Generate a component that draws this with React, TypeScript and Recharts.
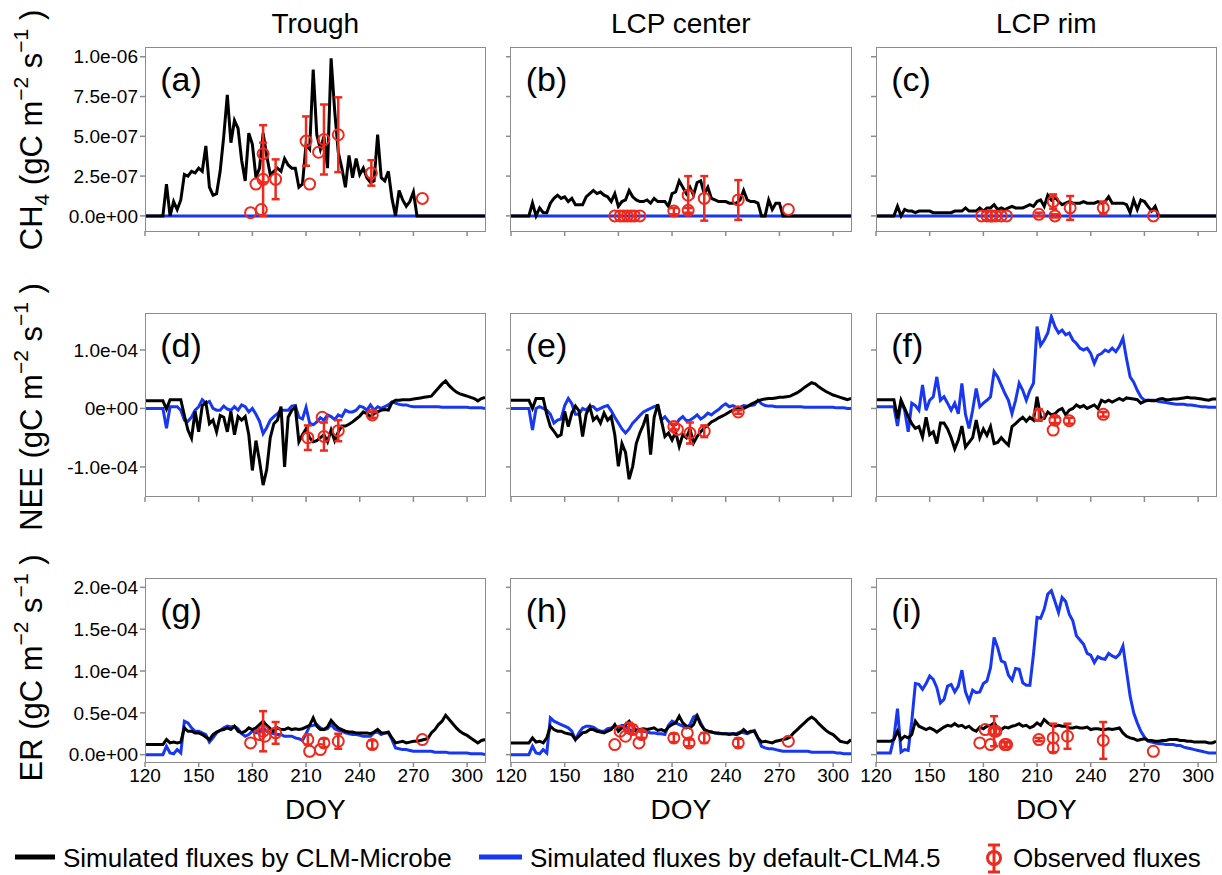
import React from 'react';
import { ComposedChart, Line, XAxis, YAxis, ErrorBar } from 'recharts';

const FONT = '"Liberation Sans", Arial, Helvetica, sans-serif';
const BLACK = '#000000';
const BLUE = '#1737f2';
const RED = '#ee2a1e';
const FRAME = '#8c8c8c';

// day of year grid shared by the simulated series
const DOY = [
  120, 122, 124, 126, 128, 130, 132, 134, 136, 138,
  140, 142, 144, 146, 148, 150, 152, 154, 156, 158,
  160, 162, 164, 166, 168, 170, 172, 174, 176, 178,
  180, 182, 184, 186, 188, 190, 192, 194, 196, 198,
  200, 202, 204, 206, 208, 210, 212, 214, 216, 218,
  220, 222, 224, 226, 228, 230, 232, 234, 236, 238,
  240, 242, 244, 246, 248, 250, 252, 254, 256, 258,
  260, 262, 264, 266, 268, 270, 272, 274, 276, 278,
  280, 282, 284, 286, 288, 290, 292, 294, 296, 298,
  300, 302, 304, 306, 308, 310,
];
const DOY_TICKS = [120, 150, 180, 210, 240, 270, 300];

// CH4 in units of 1e-8 gC m-2 s-1
const CH4_TROUGH_MICROBE = [
  0, 0, 0, 0, 0, 0, 20, 0, 9, 4,
  10, 26, 25, 28, 27, 30, 28, 44, 18, 13,
  14, 28, 50, 76, 46, 60, 55, 35, 22, 52,
  45, 24, 30, 52, 38, 26, 28, 30, 28, 36,
  32, 30, 30, 18, 20, 45, 42, 92, 51, 42,
  50, 30, 99, 66, 40, 30, 18, 38, 24, 36,
  26, 30, 24, 21, 22, 51, 24, 22, 28, 11,
  0, 16, 10, 6, 9, 15, 0, 0, 0, 0,
  0, 0, 0, 0, 0, 0, 0, 0, 0, 0,
  0, 0, 0, 0, 0, 0,
];
const CH4_CENTER_MICROBE = [
  0, 0, 0, 0, 0, 0, 8, 0, 5, 2,
  2, 8, 11, 13, 11, 12, 9, 11, 7, 7,
  7, 12, 14, 16, 14, 15, 13, 12, 9, 14,
  6, 9, 10, 16, 12, 10, 9, 9, 10, 8,
  11, 9, 9, 9, 6, 14, 15, 22, 18, 14,
  18, 13, 21, 22, 14, 18, 11, 10, 9, 9,
  9, 8, 8, 8, 10, 16, 10, 9, 9, 8,
  0, 0, 10, 4, 8, 8, 0, 0, 0, 0,
  0, 0, 0, 0, 0, 0, 0, 0, 0, 0,
  0, 0, 0, 0, 0, 0,
];
const CH4_RIM_MICROBE = [
  0, 0, 0, 0, 0, 0, 6, 0, 4, 3,
  3, 2, 3, 3, 3, 3, 2, 2, 2, 2,
  2, 2, 3, 3, 3, 5, 3, 3, 3, 5,
  3, 5, 5, 7, 4, 5, 4, 5, 6, 5,
  5, 5, 6, 7, 6, 9, 10, 6, 13, 10,
  12, 9, 7, 8, 9, 8, 8, 8, 9, 8,
  8, 8, 9, 8, 9, 12, 8, 8, 8, 8,
  7, 2, 10, 4, 10, 9, 6, 3, 6, 0,
  0, 0, 0, 0, 0, 0, 0, 0, 0, 0,
  0, 0, 0, 0, 0, 0,
];
// default CLM4.5 gives no CH4 at any site
const CH4_DEFAULT_DOY = [120, 310];
const CH4_DEFAULT = [0, 0];

// NEE in units of 1e-6 gC m-2 s-1
const NEE_TROUGH_MICROBE = [
  13, 13, 13, 13, 13, 13, -1, 15, 15, 15,
  15, -12, -37, -51, -5, -40, 5, 10, -26, -20,
  -40, -12, -15, -40, -5, -45, -14, -20, -14, -45,
  -106, -55, -90, -131, -105, -50, -26, -20, 3, -100,
  -15, -3, 2, -57, -45, -35, -50, -57, -55, -50,
  -45, -57, -37, -55, -40, -30, -30, -27, -23, -18,
  -13, -6, -9, -14, -9, -6, -3, -2, -3, 10,
  14, 14, 15, 15, 15, 16, 17, 18, 19, 20,
  21, 28, 35, 42, 47, 39, 33, 28, 25, 23,
  21, 19, 17, 13, 17, 19,
];
const NEE_TROUGH_DEFAULT = [
  0, 0, 0, 0, 0, 0, -34, 3, 3, 3,
  -3, -20, -22, -15, -3, 3, 15, 9, 12, 0,
  -3, -3, 4, -1, -3, 3, -3, 6, 3, -6,
  0, -10, -22, -43, -33, -20, -14, -9, -3, -3,
  -3, 4, 5, -15, -18, 2, -25, -28, -23, -16,
  -20, -11, -14, -19, -11, -14, -3, -6, -6, -3,
  4, 2, -3, 6, -3, 3, 0, 3, 6, 11,
  9, 7, 6, 6, 4, 3, 3, 3, 3, 3,
  3, 3, 3, 2, 2, 2, 2, 2, 2, 2,
  2, 1, 1, 1, 1, 0,
];
const NEE_CENTER_MICROBE = [
  14, 14, 14, 14, 14, 14, 0, 17, 17, 17,
  -10, -31, -39, -48, -45, -5, -31, -8, 4, -4,
  -48, -10, 3, -20, -14, -25, -8, -20, -14, -45,
  -99, -60, -75, -121, -99, -60, -42, -28, -10, -79,
  -15, 7, -20, -48, -42, -54, -40, -65, -45, -50,
  -35, -59, -48, -40, -33, -29, -23, -20, -16, -13,
  -10, -6, -3, -1, 0, 0, 3, 7, 10, 13,
  15, 16, 17, 17, 18, 19, 19, 20, 21, 24,
  27, 31, 36, 40, 44, 42, 37, 33, 29, 26,
  23, 21, 19, 17, 15, 17,
];
const NEE_CENTER_DEFAULT = [
  0, 0, 0, 0, 0, 0, -37, 0, 3, 0,
  -3, -10, -25, -20, -18, 5, 17, 8, -10, -10,
  0, -3, 4, 3, -3, 0, 3, 5, -4, -15,
  -25, -35, -42, -35, -25, -19, -12, -6, -3, 0,
  3, 5, -20, -14, -22, -28, -28, -19, -14, -21,
  -20, -16, -11, -18, -14, -8, -11, -6, -2, 4,
  8, 3, 5, 2, 2, 5, 4, 5, 6, 14,
  8, 5, 4, 4, 3, 3, 3, 3, 3, 3,
  3, 3, 2, 2, 2, 2, 2, 2, 2, 2,
  2, 1, 1, 1, 0, 0,
];
const NEE_RIM_MICROBE = [
  15, 15, 15, 15, 15, 15, -17, 14, 0, -14,
  -26, -34, -31, -49, -15, -45, -40, -60, -25, -25,
  -35, -50, -69, -54, -30, -66, -58, -50, -20, -50,
  -35, -46, -31, -60, -58, -50, -57, -63, -31, -26,
  -20, -15, -22, -15, -20, 20, -15, -17, -6, -11,
  -9, -3, 0, -11, -3, 0, 6, 2, 5, 0,
  3, 6, 0, 14, 11, 14, 11, 14, 17, 14,
  18, 17, 16, 15, 9, 12, 14, 13, 13, 16,
  17, 15, 15, 16, 16, 17, 18, 19, 18, 18,
  17, 16, 15, 14, 16, 16,
];
const NEE_RIM_DEFAULT = [
  3, 3, 3, 3, 3, 3, -30, 12, -3, -40,
  9, 5, -3, 40, -3, 14, 20, 54, 14, 20,
  9, -3, 9, -9, 43, -10, -34, -3, 34, 3,
  9, 14, 20, 63, 54, 40, 26, 14, -9, 14,
  43, 31, 14, 31, 43, 140, 108, 117, 129, 157,
  140, 129, 134, 126, 129, 117, 111, 103, 100, 103,
  94, 77, 91, 94, 100, 97, 103, 97, 106, 120,
  85, 54, 45, 31, 20, 14, 14, 14, 14, 12,
  11, 10, 9, 8, 7, 7, 7, 6, 6, 5,
  4, 3, 3, 2, 2, 2,
];

// ER in units of 1e-6 gC m-2 s-1
const ER_TROUGH_MICROBE = [
  12, 12, 12, 12, 12, 12, 18, 14, 15, 14,
  15, 32, 28, 28, 26, 26, 24, 21, 18, 24,
  27, 29, 30, 32, 30, 34, 28, 26, 28, 32,
  30, 32, 36, 40, 35, 31, 28, 32, 30, 30,
  32, 30, 31, 30, 31, 33, 35, 44, 34, 30,
  30, 33, 41, 36, 32, 30, 28, 27, 27, 26,
  26, 26, 26, 25, 27, 30, 26, 26, 27, 20,
  14, 15, 16, 14, 15, 16, 16, 17, 18, 19,
  26, 30, 36, 40, 47, 42, 37, 32, 28, 25,
  23, 20, 17, 14, 17, 18,
];
const ER_TROUGH_DEFAULT = [
  0, 0, 0, 0, 0, 0, 10, 2, 1, 6,
  2, 40, 38, 32, 28, 28, 26, 24, 15, 20,
  26, 29, 32, 34, 33, 34, 31, 25, 22, 24,
  28, 26, 28, 32, 28, 26, 25, 24, 24, 22,
  22, 22, 20, 19, 17, 25, 34, 35, 36, 32,
  30, 31, 36, 31, 29, 28, 26, 25, 24, 24,
  23, 22, 22, 22, 26, 27, 24, 26, 26, 18,
  8, 7, 6, 6, 5, 4, 4, 4, 4, 4,
  4, 3, 3, 3, 3, 2, 2, 2, 2, 2,
  2, 1, 1, 1, 1, 0,
];
const ER_CENTER_MICROBE = [
  14, 14, 14, 14, 14, 14, 20, 15, 16, 14,
  20, 34, 30, 28, 28, 26, 25, 24, 18, 22,
  26, 27, 30, 30, 28, 27, 26, 28, 30, 36,
  28, 32, 36, 40, 34, 28, 30, 31, 30, 31,
  32, 29, 30, 28, 33, 36, 38, 46, 38, 34,
  32, 36, 46, 36, 30, 28, 27, 26, 26, 25,
  25, 24, 25, 24, 26, 30, 26, 28, 28, 20,
  15, 16, 15, 14, 16, 17, 18, 19, 21, 26,
  30, 34, 38, 42, 45, 42, 37, 33, 29, 26,
  24, 20, 16, 15, 14, 18,
];
const ER_CENTER_DEFAULT = [
  0, 0, 0, 0, 0, 0, 10, 2, 1, 6,
  2, 44, 40, 38, 36, 34, 32, 28, 18, 26,
  32, 34, 34, 33, 30, 28, 28, 31, 32, 33,
  33, 35, 34, 30, 28, 30, 28, 28, 27, 26,
  26, 25, 25, 24, 35, 40, 38, 36, 34, 32,
  36, 45, 47, 38, 30, 28, 27, 26, 25, 25,
  25, 25, 25, 25, 27, 26, 25, 27, 29, 20,
  10, 8, 7, 7, 6, 5, 4, 4, 4, 4,
  4, 4, 4, 4, 3, 3, 3, 3, 3, 3,
  3, 2, 2, 1, 1, 1,
];
const ER_RIM_MICROBE = [
  16, 16, 16, 16, 16, 18, 28, 18, 22, 20,
  24, 40, 34, 32, 30, 32, 30, 27, 30, 33,
  35, 34, 37, 34, 35, 32, 34, 30, 28, 33,
  31, 34, 35, 38, 32, 30, 33, 32, 34, 35,
  37, 34, 35, 32, 34, 38, 35, 42, 38, 35,
  34, 35, 34, 34, 32, 32, 33, 32, 32, 33,
  30, 31, 31, 30, 30, 31, 30, 31, 32, 26,
  22, 20, 19, 17, 18, 19, 17, 17, 16, 16,
  17, 17, 18, 18, 18, 17, 17, 16, 16, 15,
  15, 15, 15, 14, 14, 16,
];
const ER_RIM_DEFAULT = [
  2, 2, 2, 2, 2, 20, 55, 3, 6, 5,
  40, 85, 84, 78, 85, 94, 90, 80, 62, 66,
  82, 84, 75, 82, 101, 75, 64, 77, 74, 75,
  85, 88, 104, 140, 128, 112, 110, 95, 89, 103,
  102, 86, 83, 83, 120, 164, 163, 174, 192, 196,
  183, 170, 188, 183, 168, 160, 142, 137, 132, 121,
  119, 110, 117, 115, 114, 121, 118, 116, 120, 130,
  100, 70, 50, 38, 28, 21, 16, 15, 14, 13,
  13, 12, 12, 12, 11, 11, 9, 8, 7, 6,
  5, 4, 3, 2, 2, 2,
];

// observations: day, value, error half-width (0 = no error bar), same units as above
const OBS_A_DOY = [179, 182, 185, 186, 186, 193, 210, 212, 217, 220, 228, 246.5, 275];
const OBS_A_VAL = [2, 20, 4, 39, 23, 23, 47, 20, 40, 48, 51, 27, 11];
const OBS_A_ERR = [0, 0, 0, 18, 23, 12.5, 15.5, 0, 0, 22, 23.5, 8, 0];
const OBS_B_DOY = [178, 181, 183, 185, 187, 189, 192, 211, 219, 219, 228, 247, 275];
const OBS_B_VAL = [0, 0, 0, 0, 0, 0, 0, 3, 13, 3.5, 11, 10, 4];
const OBS_B_ERR = [0, 0, 0, 0, 0, 0, 0, 2, 12, 1.5, 14, 12.5, 0];
const OBS_C_DOY = [179, 182, 184, 185, 187, 190, 193, 211, 219, 220, 228.5, 247, 275];
const OBS_C_VAL = [0, 0, 0, 0, 0, 0, 0, 1, 9, 0, 5, 5, 0];
const OBS_C_ERR = [0, 0, 0, 0, 0, 0, 0, 1, 4.5, 1, 7.5, 4, 0];
const OBS_D_DOY = [211, 219, 220, 228, 247];
const OBS_D_VAL = [-50, -15, -48, -38, -11];
const OBS_D_ERR = [21, 0, 24, 18, 5];
const OBS_E_DOY = [211, 213, 220, 228, 247];
const OBS_E_VAL = [-31, -36, -42, -39, -6];
const OBS_E_ERR = [5, 0, 18, 10, 3];
const OBS_F_DOY = [211, 219, 220, 228, 247];
const OBS_F_VAL = [-11, -37, -20, -21, -10];
const OBS_F_ERR = [10, 0, 5, 5, 4];
const OBS_G_DOY = [179, 184, 186, 187, 193, 211, 212, 218, 220, 228, 247, 275];
const OBS_G_VAL = [14, 24, 28, 22, 26, 18, 4, 6, 14, 16, 12, 18];
const OBS_G_ERR = [0, 0, 24, 0, 13, 6, 0, 0, 5, 9, 5, 0];
const OBS_H_DOY = [178, 181, 184, 186, 188, 191.5, 193, 211, 218.5, 219.5, 228, 247, 275];
const OBS_H_VAL = [12, 28, 22, 32, 30, 14, 24, 20, 26, 14, 20, 14, 16];
const OBS_H_ERR = [0, 0, 0, 6, 5, 0, 4, 5, 0, 4, 6, 5, 0];
const OBS_I_DOY = [178, 181, 184, 186, 187, 192, 193, 211, 219, 219, 227, 247, 275];
const OBS_I_VAL = [14, 30, 12, 28, 28, 12, 12, 18, 20, 8, 22, 17, 4];
const OBS_I_ERR = [0, 0, 0, 18, 4, 3, 3, 2, 17, 0, 15, 22, 0];

const SITES = ['Trough', 'LCP center', 'LCP rim'];
const ROW_UNITS = [1e-8, 1e-6, 1e-6];
const ROW_DOMAINS = [
  [-0.095e-6, 1.055e-6],
  [-1.514e-4, 1.615e-4],
  [-0.088e-4, 2.1e-4],
];
const ROW_TICKS = [
  [0, 2.5e-7, 5e-7, 7.5e-7, 1e-6],
  [-1e-4, 0, 1e-4],
  [0, 0.5e-4, 1e-4, 1.5e-4, 2e-4],
];
const ROW_TICK_LABELS = [
  ['0.0e+00', '2.5e-07', '5.0e-07', '7.5e-07', '1.0e-06'],
  ['-1.0e-04', '0e+00', '1.0e-04'],
  ['0.0e+00', '0.5e-04', '1.0e-04', '1.5e-04', '2.0e-04'],
];

// layout (page pixels)
const COL_LEFT = [145.3, 510.8, 876.3];
const ROW_TOP = [48, 313.5, 579];
const PLOT_W = 340;
const PLOT_H = 183;
const Y_AXIS_W = 110;
const X_AXIS_H = 42;
const PAD_TOP = 14;

const series = (vals: number[], unit: number, doy: number[] = DOY) =>
  doy.map((x, i) => ({ x, y: vals[i] * unit }));

const observed = (doy: number[], vals: number[], errs: number[], unit: number) => {
  const pts = doy.map((x, i) => ({ x, y: vals[i] * unit, e: errs[i] * unit }));
  return { bars: pts.filter((p) => p.e > 0), plain: pts.filter((p) => p.e === 0) };
};

const PANELS = [
  { id: 'a', row: 0, col: 0, microbe: CH4_TROUGH_MICROBE, def: CH4_DEFAULT, defDoy: CH4_DEFAULT_DOY, obs: [OBS_A_DOY, OBS_A_VAL, OBS_A_ERR] },
  { id: 'b', row: 0, col: 1, microbe: CH4_CENTER_MICROBE, def: CH4_DEFAULT, defDoy: CH4_DEFAULT_DOY, obs: [OBS_B_DOY, OBS_B_VAL, OBS_B_ERR] },
  { id: 'c', row: 0, col: 2, microbe: CH4_RIM_MICROBE, def: CH4_DEFAULT, defDoy: CH4_DEFAULT_DOY, obs: [OBS_C_DOY, OBS_C_VAL, OBS_C_ERR] },
  { id: 'd', row: 1, col: 0, microbe: NEE_TROUGH_MICROBE, def: NEE_TROUGH_DEFAULT, defDoy: DOY, obs: [OBS_D_DOY, OBS_D_VAL, OBS_D_ERR] },
  { id: 'e', row: 1, col: 1, microbe: NEE_CENTER_MICROBE, def: NEE_CENTER_DEFAULT, defDoy: DOY, obs: [OBS_E_DOY, OBS_E_VAL, OBS_E_ERR] },
  { id: 'f', row: 1, col: 2, microbe: NEE_RIM_MICROBE, def: NEE_RIM_DEFAULT, defDoy: DOY, obs: [OBS_F_DOY, OBS_F_VAL, OBS_F_ERR] },
  { id: 'g', row: 2, col: 0, microbe: ER_TROUGH_MICROBE, def: ER_TROUGH_DEFAULT, defDoy: DOY, obs: [OBS_G_DOY, OBS_G_VAL, OBS_G_ERR] },
  { id: 'h', row: 2, col: 1, microbe: ER_CENTER_MICROBE, def: ER_CENTER_DEFAULT, defDoy: DOY, obs: [OBS_H_DOY, OBS_H_VAL, OBS_H_ERR] },
  { id: 'i', row: 2, col: 2, microbe: ER_RIM_MICROBE, def: ER_RIM_DEFAULT, defDoy: DOY, obs: [OBS_I_DOY, OBS_I_VAL, OBS_I_ERR] },
];

const OBS_DOT = { r: 5.5, stroke: RED, strokeWidth: 2, fill: 'none' };

function Panel({ p }: { p: (typeof PANELS)[number] }) {
  const unit = ROW_UNITS[p.row];
  const showX = p.row === 2;
  const showY = p.col === 0;
  const obs = observed(p.obs[0], p.obs[1], p.obs[2], unit);
  const yTicks = ROW_TICKS[p.row];
  const yLabels = ROW_TICK_LABELS[p.row];
  const tickStyle = { fontSize: 19, fill: '#000', fontFamily: FONT };
  return (
    <div style={{ position: 'absolute', left: COL_LEFT[p.col] - Y_AXIS_W, top: ROW_TOP[p.row] - PAD_TOP }}>
      <ComposedChart
        width={Y_AXIS_W + PLOT_W + 4}
        height={PAD_TOP + PLOT_H + X_AXIS_H}
        margin={{ top: PAD_TOP, right: 4, bottom: 0, left: 0 }}
      >
        <XAxis
          type="number"
          dataKey="x"
          domain={[120, 310]}
          ticks={DOY_TICKS}
          interval={0}
          allowDataOverflow
          height={X_AXIS_H}
          axisLine={false}
          tickLine={{ stroke: FRAME, strokeWidth: 1.5 }}
          tickSize={5}
          tick={tickStyle}
          tickFormatter={(v: number) => (showX ? String(v) : '')}
        />
        <YAxis
          type="number"
          dataKey="y"
          domain={ROW_DOMAINS[p.row]}
          ticks={yTicks}
          interval={0}
          allowDataOverflow
          width={Y_AXIS_W}
          axisLine={false}
          tickLine={{ stroke: FRAME, strokeWidth: 1.5 }}
          tickSize={5}
          tick={tickStyle}
          tickFormatter={(v: number, i: number) => {
            if (!showY) return '';
            const k = yTicks.findIndex((t) => Math.abs(t - v) < 1e-12);
            return yLabels[k >= 0 ? k : i] ?? '';
          }}
        />
        <Line
          data={series(p.def, unit, p.defDoy)}
          dataKey="y"
          type="linear"
          stroke={BLUE}
          strokeWidth={3}
          dot={false}
          activeDot={false}
          isAnimationActive={false}
        />
        <Line
          data={series(p.microbe, unit)}
          dataKey="y"
          type="linear"
          stroke={BLACK}
          strokeWidth={3}
          dot={false}
          activeDot={false}
          isAnimationActive={false}
        />
        <Line
          data={obs.plain}
          dataKey="y"
          stroke="none"
          dot={OBS_DOT}
          activeDot={false}
          isAnimationActive={false}
        />
        <Line
          data={obs.bars}
          dataKey="y"
          stroke="none"
          dot={OBS_DOT}
          activeDot={false}
          isAnimationActive={false}
        >
          <ErrorBar dataKey="e" direction="y" width={4} stroke={RED} strokeWidth={2.5} />
        </Line>
      </ComposedChart>
    </div>
  );
}

function YTitle({ x, y, head, sub }: { x: number; y: number; head: string; sub?: string }) {
  return (
    <text
      transform={`translate(${x} ${y}) rotate(-90)`}
      textAnchor="middle"
      fontSize={31}
      fontFamily={FONT}
      fill="#000"
      style={{ whiteSpace: 'pre' }}
    >
      <tspan>{head}</tspan>
      {sub ? <tspan fontSize={21} dy={7}>{sub}</tspan> : null}
      <tspan dy={sub ? -7 : 0}>{' (gC m'}</tspan>
      <tspan fontSize={21} dy={-14}>{'\u22122'}</tspan>
      <tspan dy={14}>{' s'}</tspan>
      <tspan fontSize={21} dy={-14}>{'\u22121'}</tspan>
      <tspan dy={14}>{' )'}</tspan>
    </text>
  );
}

export default function App() {
  return (
    <div style={{ position: 'absolute', left: 0, top: 0, width: 1222, height: 875, background: '#fff' }}>
      {PANELS.map((p) => (
        <Panel key={p.id} p={p} />
      ))}
      {PANELS.map((p) => (
        <div
          key={`frame-${p.id}`}
          style={{
            position: 'absolute',
            left: COL_LEFT[p.col] - 0.75,
            top: ROW_TOP[p.row] - 0.75,
            width: PLOT_W + 1.5,
            height: PLOT_H + 1.5,
            border: `1.5px solid ${FRAME}`,
            boxSizing: 'border-box',
            pointerEvents: 'none',
          }}
        />
      ))}
      <svg
        width={1222}
        height={875}
        style={{ position: 'absolute', left: 0, top: 0, pointerEvents: 'none' }}
      >
        {SITES.map((s, c) => (
          <text key={s} x={COL_LEFT[c] + PLOT_W / 2} y={33} textAnchor="middle" fontSize={28} fontFamily={FONT}>
            {s}
          </text>
        ))}
        {PANELS.map((p) => (
          <text
            key={`lab-${p.id}`}
            x={COL_LEFT[p.col] + 15}
            y={ROW_TOP[p.row] + 43}
            fontSize={34}
            fontFamily={FONT}
          >
            {`(${p.id})`}
          </text>
        ))}
        {SITES.map((s, c) => (
          <text key={`doy-${s}`} x={COL_LEFT[c] + PLOT_W / 2} y={819} textAnchor="middle" fontSize={28} fontFamily={FONT}>
            DOY
          </text>
        ))}
        <YTitle x={42} y={130} head="CH" sub="4" />
        <YTitle x={42} y={407} head="NEE" />
        <YTitle x={42} y={668} head="ER" />

        <line x1={15} x2={55} y1={857} y2={857} stroke={BLACK} strokeWidth={5} />
        <text x={63} y={867} fontSize={26} fontFamily={FONT}>Simulated fluxes by CLM-Microbe</text>
        <line x1={479} x2={522} y1={857} y2={857} stroke={BLUE} strokeWidth={5} />
        <text x={530} y={867} fontSize={26} fontFamily={FONT}>Simulated fluxes by default-CLM4.5</text>
        <line x1={994} x2={994} y1={845} y2={872} stroke={RED} strokeWidth={3} />
        <line x1={988} x2={1000} y1={845} y2={845} stroke={RED} strokeWidth={3} />
        <line x1={988} x2={1000} y1={872} y2={872} stroke={RED} strokeWidth={3} />
        <circle cx={994} cy={858} r={6.5} stroke={RED} strokeWidth={3} fill="none" />
        <text x={1013} y={867} fontSize={26} fontFamily={FONT}>Observed fluxes</text>
      </svg>
    </div>
  );
}
